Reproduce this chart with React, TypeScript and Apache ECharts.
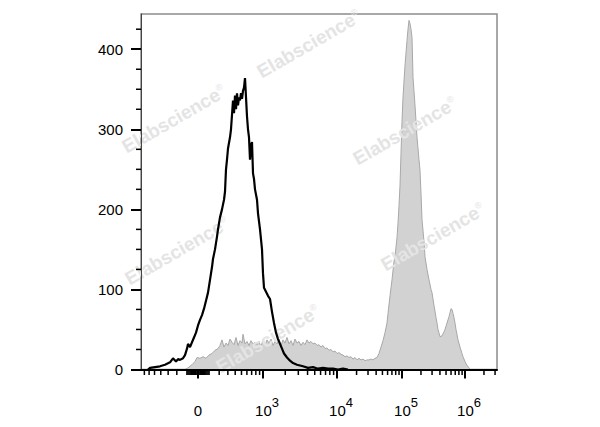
import React, { useEffect, useRef } from "react";
import * as echarts from "echarts";

// ---------- data (display channels on the biexponential axis, event counts) ----------
const blackChannels = [7, 9, 14, 19, 24, 29, 32, 35, 37, 39, 42, 44, 46, 47, 49, 51, 53, 55, 57, 59, 61, 63, 65, 67, 69, 71, 72, 74, 76, 77, 79, 81, 83, 84, 85, 86, 87, 89, 90, 91, 92, 93, 94, 95, 96, 97, 98, 99, 100, 101, 102, 103, 104, 105, 106, 107, 108, 109, 110, 111, 112, 113, 114, 116, 117, 119, 121, 122, 123, 125, 127, 129, 131, 133, 135, 137, 139, 141, 143, 146, 149, 152, 156, 162, 167, 172, 177, 182, 187, 192, 197, 202, 207];
const blackCounts = [0, 2, 3, 4, 6, 9, 14, 10, 13, 12, 14, 18, 26, 32, 28, 34, 40, 46, 55, 62, 68, 76, 86, 96, 112, 128, 138, 150, 166, 175, 190, 200, 212, 222, 250, 262, 276, 290, 300, 318, 336, 320, 342, 325, 345, 330, 340, 336, 345, 338, 348, 352, 364, 340, 316, 300, 290, 262, 280, 284, 245, 238, 225, 212, 195, 175, 150, 120, 102, 97, 92, 88, 72, 58, 46, 38, 32, 26, 20, 15, 11, 8, 6, 4, 2, 3, 1, 2, 1, 1, 0, 1, 0];

const grayChannels = [44, 47, 51, 54, 56, 59, 62, 65, 68, 71, 74, 77, 79, 81, 83, 85, 87, 89, 91, 93, 95, 97, 99, 101, 102, 104, 106, 108, 110, 112, 114, 116, 118, 120, 122, 124, 126, 128, 130, 132, 134, 136, 138, 140, 142, 144, 146, 148, 150, 152, 154, 156, 158, 160, 162, 164, 166, 168, 170, 172, 174, 176, 178, 180, 182, 184, 186, 188, 190, 192, 194, 196, 198, 200, 202, 204, 206, 208, 210, 212, 214, 216, 218, 220, 222, 224, 226, 228, 230, 232, 234, 236, 238, 240, 242, 244, 246, 247, 249, 251, 253, 254, 256, 257, 258, 259, 260, 261, 262, 264, 266, 267, 268, 269, 270, 271, 272, 274, 276, 278, 279, 280, 281, 283, 284, 286, 288, 290, 291, 293, 295, 296, 297, 299, 301, 303, 304, 306, 308, 309, 310, 311, 312, 313, 314, 315, 317, 319, 321, 322, 324, 326, 327, 329];
const grayCounts = [0, 2, 6, 10, 15, 14, 16, 14, 18, 20, 24, 26, 30, 37, 28, 33, 30, 38, 34, 31, 40, 30, 36, 33, 44, 32, 35, 30, 36, 32, 34, 31, 35, 28, 37, 30, 37, 33, 38, 30, 35, 32, 38, 30, 37, 33, 40, 32, 36, 30, 38, 33, 35, 30, 34, 31, 37, 33, 35, 32, 33, 30, 31, 28, 30, 26, 27, 24, 25, 22, 23, 20, 21, 19, 18, 16, 17, 15, 16, 13, 15, 12, 14, 12, 13, 11, 12, 12, 13, 12, 14, 15, 20, 28, 36, 46, 58, 70, 92, 112, 135, 141, 165, 183, 205, 230, 270, 310, 340, 380, 411, 425, 436, 432, 425, 415, 365, 330, 290, 262, 249, 220, 187, 160, 141, 125, 112, 100, 96, 80, 65, 58, 50, 41, 42, 47, 50, 58, 66, 71, 76, 75, 70, 65, 58, 50, 37, 28, 20, 16, 10, 5, 4, 0];

// ---------- axis ticks ----------
const xMajorValues = [0, 1e3, 1e4, 1e5, 1e6];
const xTickBase = ["0", "10", "10", "10", "10"];
const xTickExp = ["", "3", "4", "5", "6"];
const yMajorTicks = [0, 100, 200, 300, 400];
const yMinorTicks = [25, 50, 75, 125, 150, 175, 225, 250, 275, 325, 350, 375, 425];

// biexponential display scale: asinh around zero, log above 10^3
const X_MIN = 0;
const X_MAX = 356;
const Y_MAX = 444;
const ZERO_CH = 57;
const decadeExp = [3, 4, 5, 6, 7];
const decadeOffset = [65, 139, 204, 267, 330];

function toChannel(v: number): number {
  const a = Math.abs(v);
  if (a <= 1000) {
    return ZERO_CH + Math.sign(v) * 65 * Math.asinh(a / 300) / Math.asinh(1000 / 300);
  }
  const lg = Math.log10(a);
  for (let i = 0; i < decadeExp.length - 1; i++) {
    if (lg <= decadeExp[i + 1]) {
      const t = (lg - decadeExp[i]) / (decadeExp[i + 1] - decadeExp[i]);
      return ZERO_CH + decadeOffset[i] + t * (decadeOffset[i + 1] - decadeOffset[i]);
    }
  }
  return X_MAX;
}

function minorValues(): number[] {
  const vals: number[] = [];
  for (let k = 1; k <= 9; k++) {
    vals.push(-k * 100, -k * 10, k * 10, k * 100);
  }
  for (const e of [3, 4, 5, 6]) {
    for (let k = 2; k <= 9; k++) vals.push(k * Math.pow(10, e));
  }
  return vals.map(toChannel).filter((c) => c >= X_MIN && c <= X_MAX);
}

const FONT = "'Liberation Sans', Arial, Helvetica, sans-serif";

const watermarkPos: [number, number][] = [
  [309, 44],
  [174, 119],
  [405, 131],
  [177, 251],
  [433, 237],
  [268, 339],
];

export default function App() {
  const ref = useRef<HTMLDivElement>(null);

  useEffect(() => {
    if (!ref.current) return;
    const chart = echarts.init(ref.current, null, { renderer: "svg" });

    const majorCh = xMajorValues.map(toChannel);
    const minorCh = minorValues();

    const labelFor = (val: number) => {
      let idx = 0;
      let best = Infinity;
      majorCh.forEach((c, i) => {
        const d = Math.abs(c - val);
        if (d < best) {
          best = d;
          idx = i;
        }
      });
      if (!xTickExp[idx]) return `{b|${xTickBase[idx]}}`;
      return `{bp|${xTickBase[idx]}}{s|${xTickExp[idx]}}`;
    };

    const blackData = blackChannels.map((c, i) => [c, blackCounts[i]]);
    const grayData = grayChannels.map((c, i) => [c, grayCounts[i]]);

    chart.setOption({
      animation: false,
      backgroundColor: "#ffffff",
      grid: {
        left: 141,
        right: 103,
        top: 14,
        bottom: 57.5,
        show: true,
        borderColor: "#8c8c8c",
        borderWidth: 1.5,
        backgroundColor: "transparent",
        outerBoundsMode: "none",
      },
      xAxis: {
        type: "value",
        min: X_MIN,
        max: X_MAX,
        position: "bottom",
        z: 12,
        axisLine: { show: true, onZero: false, lineStyle: { color: "#000", width: 2 } },
        axisTick: {
          show: true,
          customValues: majorCh,
          length: 9,
          lineStyle: { color: "#000", width: 2 },
        },
        axisLabel: {
          show: true,
          customValues: majorCh,
          margin: 26,
          formatter: (v: number) => labelFor(v),
          rich: {
            b: { fontSize: 15, fontFamily: FONT, color: "#000", lineHeight: 30 },
            bp: {
              fontSize: 15,
              fontFamily: FONT,
              color: "#000",
              lineHeight: 30,
              padding: [0, 0, 0, 8],
            },
            s: { fontSize: 13, fontFamily: FONT, color: "#000", verticalAlign: "top" },
          },
        },
        splitLine: { show: false },
      },
      yAxis: {
        type: "value",
        min: 0,
        max: Y_MAX,
        position: "left",
        z: 12,
        axisLine: { show: true, onZero: false, lineStyle: { color: "#444", width: 1 } },
        axisTick: {
          show: true,
          customValues: yMajorTicks,
          length: 10,
          lineStyle: { color: "#000", width: 2 },
        },
        axisLabel: {
          show: true,
          customValues: yMajorTicks,
          margin: 18,
          fontSize: 15,
          fontFamily: FONT,
          color: "#000",
        },
        splitLine: { show: false },
      },
      series: [
        {
          type: "line",
          name: "stained",
          data: grayData,
          showSymbol: false,
          symbol: "none",
          z: 2,
          lineStyle: { color: "#a8a8a8", width: 1 },
          areaStyle: { color: "#d2d2d2", opacity: 1 },
        },
        {
          type: "line",
          name: "control",
          data: blackData,
          showSymbol: false,
          symbol: "none",
          z: 10,
          lineStyle: { color: "#000", width: 2.2 },
        },
      ],
    });

    // minor ticks placed through the chart's own scales
    const finder = { gridIndex: 0 };
    const xMinorEls = minorCh.map((c, i) => {
      const p = chart.convertToPixel(finder, [c, 0]) as number[];
      return {
        type: "line",
        id: "xm" + i,
        z: 20,
        silent: true,
        shape: { x1: p[0], y1: p[1], x2: p[0], y2: p[1] + 5.5 },
        style: { stroke: "#000", lineWidth: 1.5 },
      };
    });
    const yMinorEls = yMinorTicks.map((v, i) => {
      const p = chart.convertToPixel(finder, [X_MIN, v]) as number[];
      return {
        type: "line",
        id: "ym" + i,
        z: 20,
        silent: true,
        shape: { x1: p[0] - 5, y1: p[1], x2: p[0], y2: p[1] },
        style: { stroke: "#000", lineWidth: 1.5 },
      };
    });
    const watermarkEls = watermarkPos.map(([x, y], i) => ({
      type: "text",
      id: "wm" + i,
      x,
      y,
      z: 5,
      rotation: Math.PI / 6,
      silent: true,
      style: {
        text: "Elabscience{r|®}",
        fontSize: 19,
        fontWeight: "bold",
        fontFamily: FONT,
        fill: "#e4e4e4",
        align: "center",
        verticalAlign: "middle",
        rich: {
          r: { fontSize: 9, fontFamily: FONT, fill: "#e4e4e4", verticalAlign: "top" },
        },
      },
    }));

    chart.setOption({ graphic: [...watermarkEls, ...xMinorEls, ...yMinorEls] });

    return () => chart.dispose();
  }, []);

  return (
    <div
      ref={ref}
      style={{ position: "fixed", left: 0, top: 0, width: 600, height: 427, background: "#fff" }}
    />
  );
}
